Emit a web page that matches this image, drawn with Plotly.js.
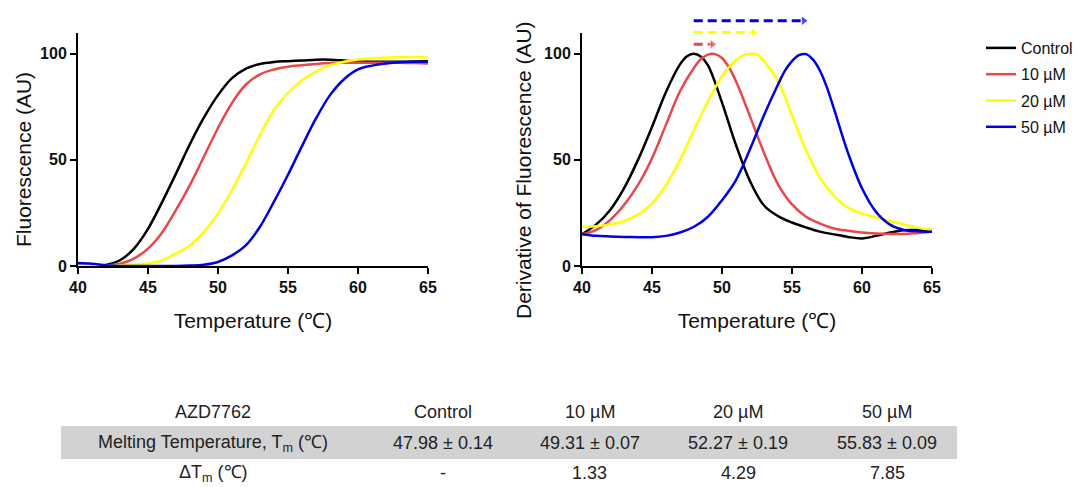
<!DOCTYPE html>
<html><head><meta charset="utf-8">
<script src="https://cdn.plot.ly/plotly-3.0.1.min.js"></script>
<style>html,body{margin:0;padding:0;background:#fff}#chart{width:1086px;height:487px}</style>
</head><body><div id="chart"></div>
<script>
// ---- data ----
const seriesNames = ['Control', '10 µM', '20 µM', '50 µM'];
const seriesColors = ['#000000', '#e8484b', '#ffff00', '#0000e6'];

const tempMelt = [40,41,42,43,44,45,46,47,48,49,50,51,52,53,54,55,56,57,58,59,60,61,62,63,64,65];
const fluorControl = [0,0,0.5,2.7,8.2,17.5,30,43.5,57.5,70,80.5,88.5,93,95.2,96.1,96.5,96.8,97.2,97.2,96.8,96.3,96.2,96.2,96.2,96.3,96.5];
const fluor10 = [0,0,0.3,1.1,3.5,8.2,15.7,26.4,38.2,51.6,65,76.8,85.5,90.3,92.6,93.9,94.6,95.2,95.6,95.7,95.7,95.7,95.7,95.7,95.6,95.4];
const fluor20 = [0,0,0,0.3,0.6,1.2,2.7,5.9,9.8,16.1,24.8,35.8,48.4,61.8,73.6,81.5,87.5,91.6,94.6,96.2,97.3,97.8,98.1,98.4,98.4,98.1];
const fluor50 = [1.4,1.1,0.3,0,0,0,0,0,0.2,0.6,1.9,5,9.8,18.5,30.3,43,56.5,69.5,80.5,88,92.6,94.4,95.4,96,96.2,96.2];

const tempDerivControl = [40,41,42,43,44,45,46,47,47.5,48,48.5,49,50,51,52,53,54,55,56,57,58,59,60,61,62,63,64,65];
const derivControl = [15,19.5,26.3,36.6,50,65.5,82,95,98.8,100,98.6,94.5,77,57,40,28.5,23.5,20.5,18.2,16.2,14.9,13.7,13,14.2,15.8,16.9,17,17];
const tempDeriv10 = [40,41,42,43,44,45,46,47,48,48.5,49,49.5,50,50.5,51,52,53,54,55,56,57,58,59,60,61,62,63,64,65];
const deriv10 = [15,16.9,21.6,28.7,38.2,50.8,66.6,82.3,93.4,97.5,99.6,99.8,98,93.5,87,70.5,53.3,38.5,29,23.2,20,17.7,16.6,15.8,15.3,15.1,15.1,15.6,16.1];
const tempDeriv20 = [40,41,42,43,44,45,46,47,48,49,50,51,51.5,52,52.5,53,54,55,56,57,58,59,60,61,62,63,64,65];
const deriv20 = [18.5,18.7,19.6,21.1,24.2,29.5,38.2,50,64.2,77.6,89.4,97,99.2,100,99.6,96.5,87,71,54.5,41.5,33,27.5,24.7,23,21.2,19.6,18,17];
const tempDeriv50 = [40,41,42,43,44,45,46,47,48,49,50,51,52,53,54,54.5,55,55.5,56,56.5,57,57.5,58,59,60,61,62,63,64,65];
const deriv50 = [15,14.2,13.9,13.7,13.6,13.6,14.2,15.8,18.5,23.2,31,40.5,55,71,85.5,92,96.5,99.3,99.8,97.2,92,84,74,53.3,36.6,25.5,19.5,17,16.4,16.1];

const tableHeader = ['AZD7762', 'Control', '10 µM', '20 µM', '50 µM'];
const rowLabels = ['Melting Temperature, T<sub>m</sub> (℃)', 'ΔT<sub>m</sub> (℃)'];
const tmMean = [47.98, 49.31, 52.27, 55.83];
const tmSD = [0.14, 0.07, 0.19, 0.09];
const deltaTm = ['-', '1.33', '4.29', '7.85'];
const arrowRow = [null, 1, 2, 3];
const yTitles = ['Fluorescence (AU)', 'Derivative of Fluorescence (AU)'];

// ---- build ----
const FONT = 'Liberation Sans, Arial, sans-serif';
const fluor = [fluorControl, fluor10, fluor20, fluor50];
const derivX = [tempDerivControl, tempDeriv10, tempDeriv20, tempDeriv50];
const derivY = [derivControl, deriv10, deriv20, deriv50];
const traces = [];
for (let i = 0; i < 4; i++) {
  traces.push({
    type: 'scatter', mode: 'lines', x: tempMelt, y: fluor[i], name: seriesNames[i],
    legendgroup: 'g' + i, showlegend: true, cliponaxis: false,
    line: {color: seriesColors[i], width: 2.5, shape: 'spline', smoothing: 1},
    xaxis: 'x', yaxis: 'y', hoverinfo: 'skip'
  });
}
for (let i = 0; i < 4; i++) {
  traces.push({
    type: 'scatter', mode: 'lines', x: derivX[i], y: derivY[i], name: seriesNames[i],
    legendgroup: 'g' + i, showlegend: false, cliponaxis: false,
    line: {color: seriesColors[i], width: 2.5, shape: 'spline', smoothing: 1},
    xaxis: 'x2', yaxis: 'y2', hoverinfo: 'skip'
  });
}
for (let i = 1; i < 4; i++) {
  traces.push({
    type: 'scatter', mode: 'lines+markers', x: [tmMean[0], tmMean[i]], y: [arrowRow[i], arrowRow[i]],
    showlegend: false, cliponaxis: false,
    line: {color: seriesColors[i], width: 3, dash: '9px,5px'},
    marker: {symbol: 'triangle-right', size: [0, 9], color: seriesColors[i]},
    xaxis: 'x3', yaxis: 'y3', hoverinfo: 'skip'
  });
}

const titleFont = {family: FONT, size: 21, color: '#111'};
// table as text cells over a shaded band
const colCenters = [213, 443, 590, 738, 887];
const rowCenters = [411.5, 443, 473];
const tableRows = [
  tableHeader,
  [rowLabels[0]].concat(tmMean.map((m, i) => m.toFixed(2) + ' ± ' + tmSD[i].toFixed(2))),
  [rowLabels[1]].concat(deltaTm)
];
const annotations = [];
tableRows.forEach((row, r) => row.forEach((txt, c) => {
  annotations.push({text: txt, xref: 'paper', yref: 'paper', x: colCenters[c] / 1086, y: 1 - rowCenters[r] / 487,
    xanchor: 'center', yanchor: 'middle', showarrow: false, font: {family: FONT, size: 18, color: '#222'}});
}));
// y-axis titles (placed like the reference, centred on the 0–100 span)
const yTitlePos = [[23, 160], [524, 170]];
yTitles.forEach((t, i) => annotations.push({text: t, textangle: -90, xref: 'paper', yref: 'paper',
  x: yTitlePos[i][0] / 1086, y: 1 - yTitlePos[i][1] / 487, xanchor: 'center', yanchor: 'middle',
  showarrow: false, font: titleFont}));

const shapes = [{type: 'rect', xref: 'paper', yref: 'paper', x0: 61/1086, x1: 957/1086,
  y0: 1 - 459/487, y1: 1 - 426/487, fillcolor: '#d2d2d2', line: {width: 0}, layer: 'below'}];

const tickFont = {family: FONT, size: 16, color: '#111', weight: 'bold'};
function xax(domain, anchor) {
  return {domain: domain, anchor: anchor, range: [40, 65], tickvals: [40,45,50,55,60,65],
    showline: true, linewidth: 2, linecolor: '#000', ticks: 'outside', ticklen: 6, tickwidth: 2, tickcolor: '#000',
    showgrid: false, zeroline: false, tickfont: tickFont,
    title: {text: 'Temperature (℃)', font: titleFont, standoff: 18}};
}
function yax(domain, anchor) {
  return {domain: domain, anchor: anchor, range: [0, 110], tickvals: [0, 50, 100],
    showline: true, linewidth: 2, linecolor: '#000', ticks: 'outside', ticklen: 6, tickwidth: 2, tickcolor: '#000',
    showgrid: false, zeroline: false, tickfont: tickFont};
}
const yDom = [1 - 266/487, 1 - 32.5/487];
const layout = {
  width: 1086, height: 487, margin: {l: 0, r: 0, t: 0, b: 0},
  paper_bgcolor: 'white', plot_bgcolor: 'rgba(0,0,0,0)',
  font: {family: FONT, color: '#111'},
  xaxis: xax([78/1086, 428/1086], 'y'),
  yaxis: yax(yDom, 'x'),
  xaxis2: xax([582/1086, 932/1086], 'y2'),
  yaxis2: yax(yDom, 'x2'),
  xaxis3: {domain: [582/1086, 932/1086], anchor: 'y3', range: [40, 65], visible: false},
  yaxis3: {domain: [1 - 56.1/487, 1 - 8.9/487], anchor: 'x3', range: [0, 4], visible: false},
  showlegend: true,
  legend: {x: 981/1086, y: 1 - 31/487, xanchor: 'left', yanchor: 'top', tracegroupgap: 2.5,
    font: {family: FONT, size: 16, color: '#111'}, bgcolor: 'rgba(0,0,0,0)', itemwidth: 30},
  annotations: annotations,
  shapes: shapes
};
Plotly.newPlot('chart', traces, layout, {staticPlot: true, displayModeBar: false});
</script>
</body></html>
